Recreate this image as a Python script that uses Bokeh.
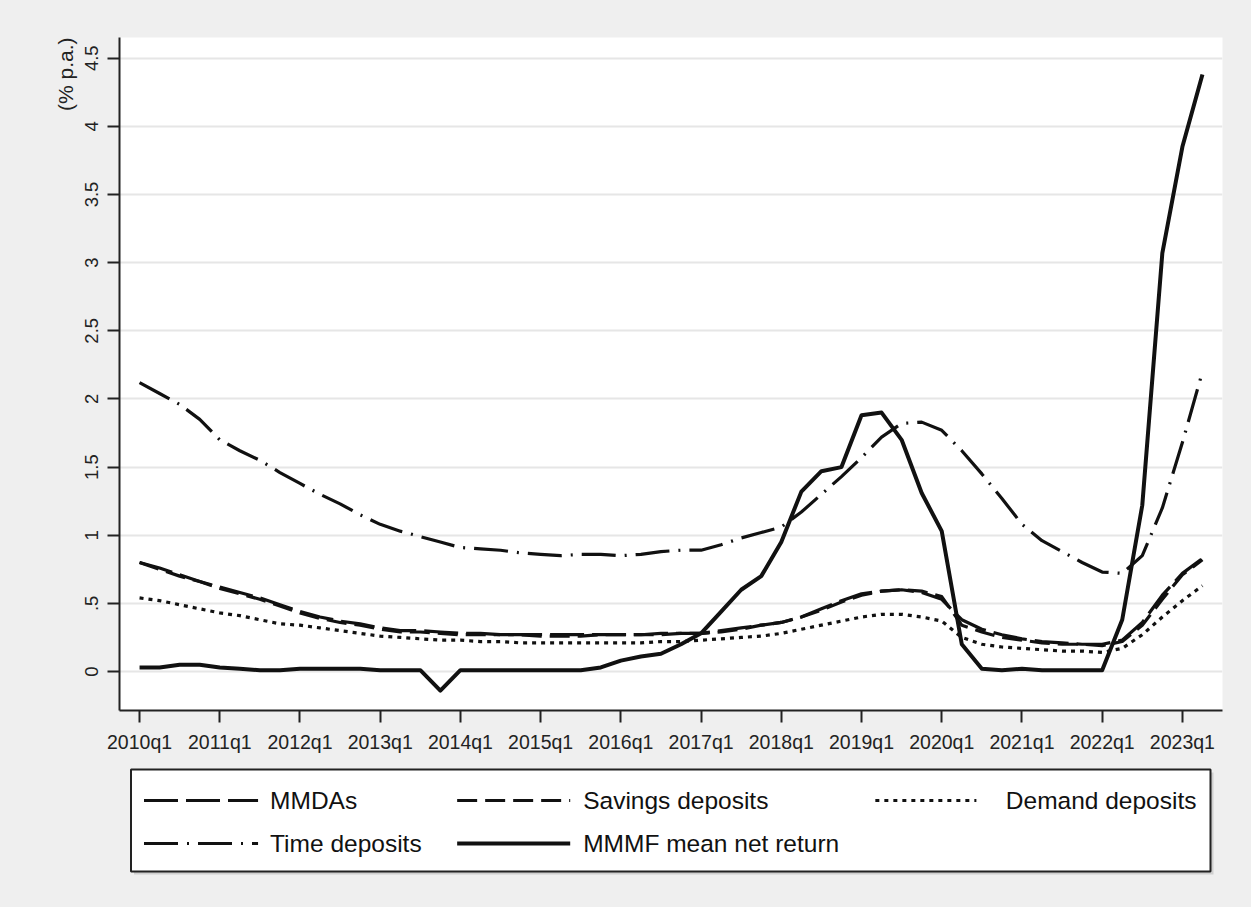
from bokeh.plotting import figure
from bokeh.models import Range1d, FixedTicker, Title, ColumnDataSource
from bokeh.layouts import column
from bokeh.core.properties import value
from bokeh.embed import file_html
from bokeh.resources import INLINE

quarters = [
    "2010q1", "2010q2", "2010q3", "2010q4", "2011q1", "2011q2", "2011q3", "2011q4",
    "2012q1", "2012q2", "2012q3", "2012q4", "2013q1", "2013q2", "2013q3", "2013q4",
    "2014q1", "2014q2", "2014q3", "2014q4", "2015q1", "2015q2", "2015q3", "2015q4",
    "2016q1", "2016q2", "2016q3", "2016q4", "2017q1", "2017q2", "2017q3", "2017q4",
    "2018q1", "2018q2", "2018q3", "2018q4", "2019q1", "2019q2", "2019q3", "2019q4",
    "2020q1", "2020q2", "2020q3", "2020q4", "2021q1", "2021q2", "2021q3", "2021q4",
    "2022q1", "2022q2", "2022q3", "2022q4", "2023q1", "2023q2",
]

mmdas = [0.80, 0.76, 0.71, 0.66, 0.62, 0.58, 0.54, 0.49,
         0.44, 0.40, 0.37, 0.35, 0.32, 0.30, 0.30, 0.29,
         0.28, 0.28, 0.27, 0.27, 0.27, 0.27, 0.27, 0.27,
         0.27, 0.27, 0.28, 0.28, 0.28, 0.30, 0.32, 0.34,
         0.36, 0.40, 0.46, 0.52, 0.57, 0.59, 0.60, 0.58,
         0.53, 0.38, 0.31, 0.27, 0.24, 0.22, 0.21, 0.20,
         0.20, 0.23, 0.36, 0.56, 0.72, 0.83]

savings = [0.80, 0.75, 0.70, 0.66, 0.61, 0.57, 0.53, 0.48,
           0.43, 0.39, 0.36, 0.34, 0.31, 0.29, 0.29, 0.28,
           0.27, 0.27, 0.27, 0.27, 0.26, 0.26, 0.26, 0.27,
           0.27, 0.27, 0.27, 0.28, 0.28, 0.29, 0.31, 0.34,
           0.36, 0.40, 0.45, 0.51, 0.56, 0.59, 0.60, 0.59,
           0.55, 0.34, 0.29, 0.25, 0.23, 0.21, 0.20, 0.20,
           0.19, 0.22, 0.34, 0.53, 0.71, 0.82]

demand = [0.54, 0.52, 0.49, 0.46, 0.43, 0.41, 0.38, 0.35,
          0.34, 0.32, 0.30, 0.28, 0.26, 0.25, 0.24, 0.23,
          0.23, 0.22, 0.22, 0.21, 0.21, 0.21, 0.21, 0.21,
          0.21, 0.21, 0.22, 0.22, 0.23, 0.24, 0.25, 0.26,
          0.28, 0.31, 0.34, 0.37, 0.40, 0.42, 0.42, 0.40,
          0.37, 0.25, 0.20, 0.18, 0.17, 0.16, 0.15, 0.15,
          0.14, 0.17, 0.27, 0.40, 0.52, 0.63]

time_dep = [2.12, 2.04, 1.96, 1.85, 1.70, 1.62, 1.55, 1.46,
            1.38, 1.30, 1.23, 1.15, 1.08, 1.03, 0.99, 0.95,
            0.91, 0.90, 0.89, 0.87, 0.86, 0.85, 0.86, 0.86,
            0.85, 0.86, 0.88, 0.89, 0.89, 0.93, 0.98, 1.02,
            1.06, 1.17, 1.30, 1.43, 1.57, 1.72, 1.82, 1.83,
            1.77, 1.62, 1.45, 1.27, 1.08, 0.96, 0.88, 0.80,
            0.73, 0.72, 0.85, 1.20, 1.68, 2.20]

mmmf = [0.03, 0.03, 0.05, 0.05, 0.03, 0.02, 0.01, 0.01,
        0.02, 0.02, 0.02, 0.02, 0.01, 0.01, 0.01, -0.14,
        0.01, 0.01, 0.01, 0.01, 0.01, 0.01, 0.01, 0.03,
        0.08, 0.11, 0.13, 0.20, 0.28, 0.44, 0.60, 0.70,
        0.95, 1.32, 1.47, 1.50, 1.88, 1.90, 1.70, 1.31,
        1.03, 0.20, 0.02, 0.01, 0.02, 0.01, 0.01, 0.01,
        0.01, 0.38, 1.22, 3.07, 3.85, 4.38]

x_tick_labels = ["2010q1", "2011q1", "2012q1", "2013q1", "2014q1", "2015q1", "2016q1",
                 "2017q1", "2018q1", "2019q1", "2020q1", "2021q1", "2022q1", "2023q1"]
y_ticks = [0, 0.5, 1, 1.5, 2, 2.5, 3, 3.5, 4, 4.5]
y_tick_labels = ["0", ".5", "1", "1.5", "2", "2.5", "3", "3.5", "4", "4.5"]

series_names = ["MMDAs", "Savings deposits", "Demand deposits", "Time deposits", "MMMF mean net return"]

FONT = "Liberation Sans"
BG = "#efefef"
INK = "#111111"

W = 1251
BL, BR = 119, 29  # left / right borders shared by both figures (frames align)

xidx = list(range(len(quarters)))
src = ColumnDataSource(dict(x=xidx, mmdas=mmdas, savings=savings, demand=demand,
                            time_dep=time_dep, mmmf=mmmf))

styles = {
    "mmdas": dict(line_dash="34 8", line_width=3.2),
    "savings": dict(line_dash="20 8", line_width=3.2),
    "demand": dict(line_dash="4 5", line_width=3.2),
    "time_dep": dict(line_dash="34 9 2 9", line_width=3.2),
    "mmmf": dict(line_dash="solid", line_width=4),
}

p = figure(width=W, height=765, output_backend="svg", toolbar_location=None,
           x_range=Range1d(-1, 54), y_range=Range1d(-0.286, 4.652),
           min_border_left=BL, min_border_right=BR, min_border_top=37, min_border_bottom=55)
p.background_fill_color = "white"
p.border_fill_color = BG
p.outline_line_color = None

for key in ["time_dep", "mmdas", "savings", "demand", "mmmf"]:
    p.line("x", key, source=src, line_color=INK, line_join="round", **styles[key])

p.xgrid.visible = False
p.ygrid.ticker = FixedTicker(ticks=y_ticks)
p.ygrid.grid_line_color = "#e6e6e6"
p.ygrid.grid_line_width = 2

xtick_pos = [quarters.index(t) for t in x_tick_labels]
p.xaxis.ticker = FixedTicker(ticks=xtick_pos)
p.xaxis.major_label_overrides = {pos: lab for pos, lab in zip(xtick_pos, x_tick_labels)}
p.yaxis.ticker = FixedTicker(ticks=y_ticks)
p.yaxis.major_label_overrides = {t: lab for t, lab in zip(y_ticks, y_tick_labels)}
p.yaxis.major_label_orientation = "vertical"

for ax in (p.xaxis, p.yaxis):
    ax.axis_line_color = "#222222"
    ax.axis_line_width = 2
    ax.major_tick_line_color = "#222222"
    ax.major_tick_line_width = 2
    ax.major_tick_in = 0
    ax.major_tick_out = 12
    ax.minor_tick_line_color = None
    ax.major_label_text_font = FONT
    ax.major_label_text_color = "#222222"
p.xaxis.major_label_text_font_size = "19.5px"
p.yaxis.major_label_text_font_size = "18.5px"
p.xaxis.major_label_standoff = 8
p.yaxis.major_label_standoff = 9

ytitle = Title(text="(% p.a.)", align="right", text_font=FONT, text_font_size="21px",
               text_font_style="normal", text_color="#222222", standoff=11)
p.add_layout(ytitle, "left")

# legend area: own figure whose frame spans the same x extent as the plot frame
LH = 907 - 765
lg = figure(width=W, height=LH, output_backend="svg", toolbar_location=None,
            x_range=Range1d(-11.5, 1091), y_range=Range1d(LH - 4, -4),
            x_axis_type=None, y_axis_type=None,
            min_border_left=BL, min_border_right=BR, min_border_top=0, min_border_bottom=0)
lg.background_fill_color = None
lg.border_fill_color = BG
lg.outline_line_color = None
lg.xgrid.visible = False
lg.ygrid.visible = False

# box shadow and box
lg.quad(left=[3], right=[1082], top=[3], bottom=[105], fill_color="#cfcfcf", line_color=None)
lg.quad(left=[0], right=[1079], top=[0], bottom=[102], fill_color="white",
        line_color="#222222", line_width=2)

leg_keys = ["mmdas", "savings", "demand", "time_dep", "mmmf"]
glyph_x0 = [13, 326, 744, 13, 326]
glyph_x1 = [127, 439, 845, 127, 439]
rows_y = [31, 31, 31, 74, 74]
text_x = [139, 452, 1065, 139, 452]
text_align = ["left", "left", "right", "left", "left"]

for k, x0, x1, yy, tx, ta, name in zip(leg_keys, glyph_x0, glyph_x1, rows_y, text_x, text_align, series_names):
    lg.line([x0, x1], [yy, yy], line_color=INK, **styles[k])
    lg.text(x=[tx], y=[yy], text=[name], text_align=ta, text_baseline="middle",
            text_font=value(FONT), text_font_size="24.5px", text_color="#111111")

layout = column(p, lg, spacing=0, styles={"background-color": BG})
open("out.html", "w").write(file_html(layout, INLINE))
